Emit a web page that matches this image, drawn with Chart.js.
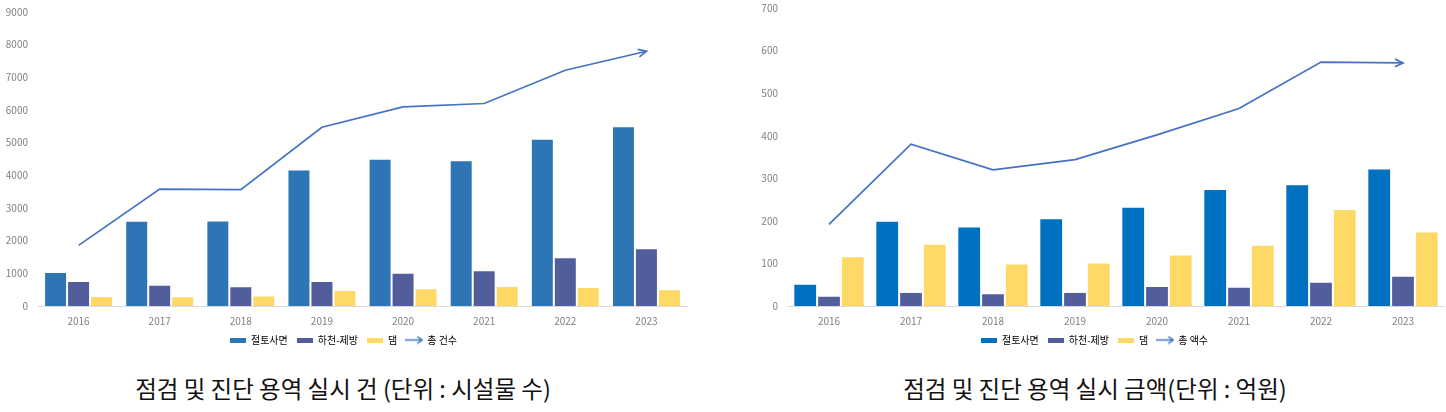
<!DOCTYPE html>
<html>
<head>
<meta charset="utf-8">
<script src="https://cdn.jsdelivr.net/npm/chart.js@4"></script>
<style>
  body { margin: 0; background: #fff; width: 1446px; height: 412px; overflow: hidden; position: relative; font-family: "Noto Sans CJK KR", "Noto Sans", sans-serif; }
  .box { position: absolute; top: 0; }
  .caption { position: absolute; top: 371px; font-size: 23.5px; color: #111; white-space: nowrap; transform: translateX(-50%); }
</style>
</head>
<body>
<div class="box" style="left:0px"><canvas id="countChart" width="700" height="355"></canvas></div>
<div class="box" style="left:745px"><canvas id="amountChart" width="701" height="355"></canvas></div>
<div class="caption" style="left:343px">점검 및 진단 용역 실시 건 (단위 : 시설물 수)</div>
<div class="caption" style="left:1095px">점검 및 진단 용역 실시 금액(단위 : 억원)</div>
<script>
const years = ['2016', '2017', '2018', '2019', '2020', '2021', '2022', '2023'];

// 건수 (시설물 수)
const cutSlopeCount = [1040, 2611, 2620, 4180, 4507, 4465, 5119, 5505];
const riverLeveeCount = [765, 654, 602, 765, 1021, 1092, 1489, 1765];
const damCount = [306, 297, 318, 489, 541, 612, 581, 511];
const totalCount = [1856, 3578, 3560, 5474, 6098, 6199, 7217, 7798];

// 금액 (억원)
const cutSlopeAmount = [52, 200, 187, 206, 233, 275, 286, 323];
const riverLeveeAmount = [24, 33, 30, 33, 47, 45, 57, 71];
const damAmount = [117, 146, 100, 102, 121, 144, 228, 175];
const totalAmount = [192, 380, 320, 344, 402, 464, 573, 571];

const FONT = '"Noto Sans CJK KR", "Noto Sans", sans-serif';

function swatch(color) {
    const c = document.createElement('canvas');
    c.width = 16; c.height = 5;
    const g = c.getContext('2d');
    g.fillStyle = color;
    g.fillRect(0, 0, 16, 5);
    return c;
}

function arrowIcon(color) {
    const c = document.createElement('canvas');
    c.width = 18; c.height = 9;
    const g = c.getContext('2d');
    g.strokeStyle = color;
    g.lineWidth = 1.5;
    g.beginPath();
    g.moveTo(0, 4.5); g.lineTo(17, 4.5);
    g.moveTo(12, 1); g.lineTo(17, 4.5); g.lineTo(12, 8);
    g.stroke();
    return c;
}

// open arrow head at the end of the total line
const arrowEnd = {
    id: 'arrowEnd',
    afterDatasetsDraw(chart) {
        chart.data.datasets.forEach((ds, i) => {
            if (ds.type !== 'line') return;
            const pts = chart.getDatasetMeta(i).data;
            const a = pts[pts.length - 2], b = pts[pts.length - 1];
            const ang = Math.atan2(b.y - a.y, b.x - a.x);
            const ctx = chart.ctx;
            ctx.save();
            ctx.strokeStyle = ds.borderColor;
            ctx.lineWidth = ds.borderWidth;
            ctx.beginPath();
            ctx.moveTo(b.x - 9 * Math.cos(ang - 0.45), b.y - 9 * Math.sin(ang - 0.45));
            ctx.lineTo(b.x, b.y);
            ctx.lineTo(b.x - 9 * Math.cos(ang + 0.45), b.y - 9 * Math.sin(ang + 0.45));
            ctx.stroke();
            ctx.restore();
        });
    }
};

function makeChart(id, opts) {
    const ctx = document.getElementById(id).getContext('2d');
    return new Chart(ctx, {
        data: {
            labels: years,
            datasets: [
                { type: 'bar', label: '절토사면', data: opts.cut, backgroundColor: opts.blue, borderColor: 'rgba(255,255,255,0.45)', borderWidth: 1, order: 2 },
                { type: 'bar', label: '하천-제방', data: opts.river, backgroundColor: '#525E9C', borderColor: 'rgba(255,255,255,0.45)', borderWidth: 1, order: 2 },
                { type: 'bar', label: '댐', data: opts.dam, backgroundColor: '#FFD966', borderColor: 'rgba(255,255,255,0.45)', borderWidth: 1, order: 2 },
                { type: 'line', label: opts.totalLabel, data: opts.total, borderColor: '#4472C4', borderWidth: 1.75, pointRadius: 0, fill: false, tension: 0, order: 1 }
            ]
        },
        options: {
            responsive: false,
            animation: false,
            categoryPercentage: opts.catPct,
            barPercentage: 1,
            layout: { padding: { top: opts.padTop, right: opts.padRight, bottom: 0, left: 0 } },
            plugins: {
                legend: {
                    position: 'bottom',
                    labels: {
                        usePointStyle: true,
                        pointStyleWidth: 16,
                        boxHeight: 6,
                        padding: 9,
                        color: '#595959',
                        font: { family: FONT, size: 10, lineHeight: 1 },
                        generateLabels(chart) {
                            return chart.data.datasets.map((ds, i) => ({
                                text: ds.label,
                                pointStyle: ds.type === 'line' ? arrowIcon(ds.borderColor) : swatch(ds.backgroundColor),
                                fillStyle: ds.type === 'line' ? ds.borderColor : ds.backgroundColor,
                                strokeStyle: 'transparent',
                                lineWidth: 0,
                                hidden: false,
                                datasetIndex: i
                            }));
                        }
                    }
                },
                tooltip: { enabled: false }
            },
            scales: {
                x: {
                    grid: { display: false, drawTicks: false },
                    border: { color: '#d9d9d9', width: 1 },
                    ticks: { color: '#7f7f7f', font: { family: FONT, size: 10, lineHeight: 1 }, padding: 10 },
                    afterFit(scale) { scale.height = 20; }
                },
                y: {
                    min: 0,
                    max: opts.max,
                    grid: { display: false, drawTicks: false },
                    border: { display: false },
                    ticks: {
                        stepSize: opts.step, color: '#7f7f7f', font: { family: FONT, size: 10 }, padding: 10,
                        callback: v => String(v)
                    },
                    afterFit(scale) {
                        scale.width = opts.axisWidth;
                        scale.paddingTop = 0;
                        scale.paddingBottom = 0;
                    }
                }
            }
        },
        plugins: [arrowEnd]
    });
}

makeChart('countChart', {
    cut: cutSlopeCount, river: riverLeveeCount, dam: damCount, total: totalCount,
    totalLabel: '총 건수', blue: '#2E75B6', max: 9000, step: 1000,
    catPct: 0.85, axisWidth: 38, padTop: 12, padRight: 13
});

makeChart('amountChart', {
    cut: cutSlopeAmount, river: riverLeveeAmount, dam: damAmount, total: totalAmount,
    totalLabel: '총 액수', blue: '#0070C0', max: 700, step: 100,
    catPct: 0.87, axisWidth: 43, padTop: 8, padRight: 2
});
</script>
</body>
</html>
